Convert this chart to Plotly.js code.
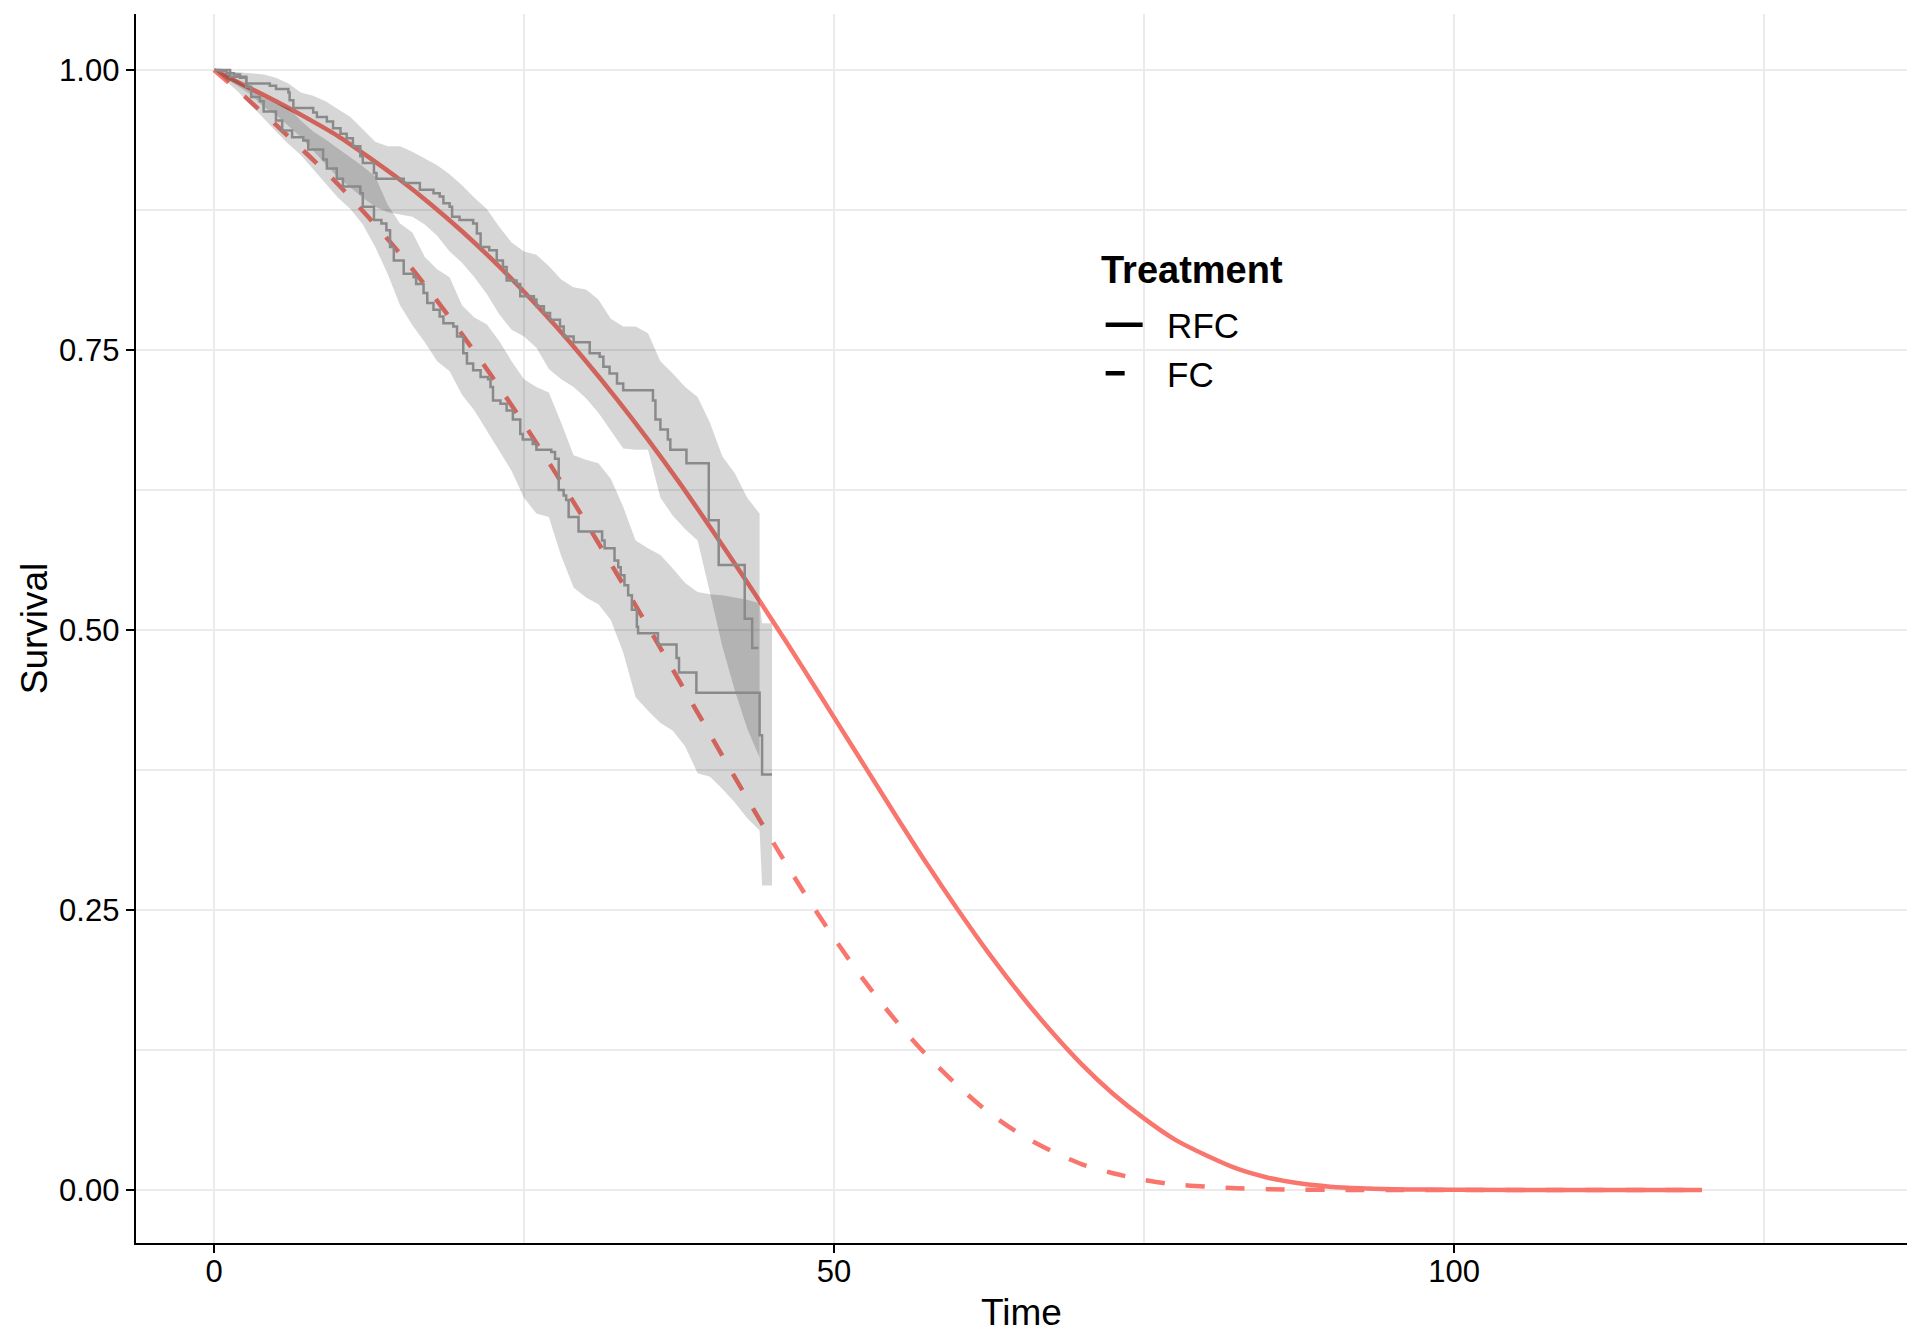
<!DOCTYPE html>
<html>
<head>
<meta charset="utf-8">
<script src="https://cdn.plot.ly/plotly-3.0.1.min.js"></script>
<style>html,body{margin:0;padding:0;background:#fff;}#chart{width:1920px;height:1344px;}</style>
</head>
<body>
<div id="chart"></div>
<script>
// Parametric (fitted) survival curves
const fitTime = [0,2.5,5,7.5,10,12.5,15,17.5,20,22.5,25,27.5,30,32.5,35,37.5,40,42.5,45,47.5,50,52.5,55,57.5,60,62.5,65,67.5,70,72.5,75,77.5,80,82.5,85,87.5,90,92.5,95,97.5,100,110,120];
const rfcFit = [1.000,0.986,0.972,0.957,0.941,0.922,0.902,0.880,0.856,0.830,0.802,0.772,0.740,0.706,0.670,0.632,0.592,0.551,0.509,0.466,0.422,0.378,0.334,0.291,0.250,0.211,0.175,0.142,0.112,0.086,0.064,0.045,0.031,0.019,0.011,0.006,0.003,0.0015,0.0008,0.0004,0.0002,0,0];
const fcFit  = [1.000,0.976,0.951,0.925,0.898,0.868,0.836,0.801,0.764,0.725,0.684,0.641,0.596,0.550,0.503,0.455,0.407,0.359,0.312,0.267,0.225,0.186,0.151,0.120,0.093,0.069,0.050,0.035,0.023,0.015,0.009,0.005,0.003,0.0015,0.0008,0.0004,0.0002,0,0,0,0,0,0];

// Kaplan-Meier step curves
const rfcKmTime = [0,0.5,1.0,1.6,2.1,2.6,4.5,5.0,6.0,6.1,6.4,8.0,8.3,9.1,9.6,10.2,10.7,11.2,11.8,12.0,12.9,13.1,15.3,16.6,17.7,18.2,18.5,19.0,19.2,19.8,20.9,21.2,21.5,22.2,22.8,23.3,23.6,24.4,24.7,25.8,26.0,26.6,27.1,27.9,28.2,29.0,30.3,31.1,31.4,31.9,32.5,33.0,35.4,35.6,36.0,36.6,36.8,38.1,39.9,40.7,42.8,43.4,43.9];
const rfcKmSurv = [1.0,0.999,0.997,0.996,0.993,0.988,0.986,0.983,0.980,0.973,0.966,0.962,0.958,0.954,0.948,0.943,0.939,0.932,0.923,0.917,0.908,0.903,0.899,0.893,0.890,0.887,0.881,0.878,0.869,0.866,0.863,0.854,0.842,0.839,0.830,0.824,0.812,0.809,0.798,0.795,0.789,0.783,0.777,0.771,0.762,0.757,0.747,0.744,0.735,0.729,0.720,0.714,0.705,0.688,0.679,0.670,0.661,0.649,0.598,0.558,0.510,0.484,0.484];
const fcKmTime = [0,1.3,2.6,3.0,3.7,4.0,5.0,5.5,6.3,7.2,7.6,8.8,9.1,9.9,10.4,11.8,12.0,12.9,13.5,13.9,14.2,14.5,15.3,16.1,16.3,16.9,17.2,17.7,18.2,18.5,19.3,19.6,20.1,20.4,20.9,21.5,22.1,22.3,22.5,23.1,23.6,24.1,24.7,24.9,25.7,26.0,27.2,27.5,27.8,28.2,28.4,28.6,29.4,31.3,31.5,32.3,32.6,32.8,33.1,33.4,33.7,34.1,34.2,35.8,37.3,37.5,38.9,44.0,44.2,45.0];
const fcKmSurv = [1.0,0.994,0.985,0.976,0.972,0.963,0.955,0.946,0.940,0.937,0.929,0.920,0.912,0.903,0.896,0.890,0.878,0.866,0.863,0.857,0.842,0.830,0.818,0.815,0.809,0.801,0.792,0.786,0.780,0.774,0.771,0.762,0.747,0.738,0.732,0.726,0.724,0.717,0.705,0.702,0.696,0.688,0.675,0.670,0.666,0.661,0.659,0.653,0.625,0.620,0.616,0.601,0.588,0.580,0.573,0.562,0.556,0.549,0.540,0.531,0.518,0.503,0.497,0.487,0.475,0.462,0.444,0.406,0.371,0.371];

// Confidence bands
const rfcBandTime = [0,1,2,3,4,5,6,7,8,9,10,11,12,13,14,15,16,17,18,19,20,21,22,23,24,25,26,27,28,29,30,31,32,33,34,35,36,37,38,39,40,41,42,43,44];
const rfcBandLow  = [1.0,0.992,0.985,0.978,0.967,0.960,0.950,0.940,0.928,0.916,0.904,0.895,0.886,0.878,0.873,0.871,0.869,0.862,0.852,0.838,0.828,0.815,0.800,0.782,0.768,0.762,0.752,0.733,0.724,0.717,0.707,0.694,0.678,0.662,0.661,0.661,0.618,0.602,0.590,0.580,0.533,0.485,0.446,0.412,0.386];
const rfcBandHigh = [1.0,0.999,0.998,0.997,0.996,0.993,0.988,0.980,0.977,0.972,0.965,0.958,0.947,0.936,0.932,0.932,0.927,0.921,0.915,0.907,0.897,0.886,0.876,0.860,0.846,0.838,0.835,0.825,0.813,0.806,0.804,0.795,0.778,0.771,0.771,0.765,0.740,0.729,0.717,0.708,0.685,0.655,0.640,0.618,0.604];
const fcBandTime = [0,1,2,3,4,5,6,7,8,9,10,11,12,13,14,15,16,17,18,19,20,21,22,23,24,25,26,27,28,29,30,31,32,33,34,35,36,37,38,39,40,41,42,43,44,44.2,45];
const fcBandLow  = [1.0,0.990,0.980,0.968,0.957,0.945,0.934,0.924,0.911,0.898,0.886,0.876,0.862,0.842,0.818,0.790,0.772,0.757,0.740,0.731,0.710,0.696,0.678,0.660,0.642,0.618,0.604,0.601,0.566,0.538,0.529,0.523,0.509,0.480,0.440,0.428,0.417,0.410,0.396,0.372,0.369,0.358,0.346,0.332,0.321,0.272,0.272];
const fcBandHigh = [1.0,0.996,0.990,0.982,0.975,0.970,0.966,0.955,0.945,0.938,0.930,0.922,0.914,0.905,0.880,0.863,0.855,0.833,0.822,0.815,0.790,0.779,0.773,0.758,0.740,0.724,0.717,0.712,0.685,0.656,0.652,0.649,0.635,0.610,0.580,0.573,0.567,0.555,0.542,0.534,0.532,0.531,0.529,0.527,0.524,0.506,0.506];

const groupNames = ['RFC','FC'];
const legendTitle = 'Treatment';
const yTicks = [0,0.25,0.5,0.75,1];
const xTicks = [0,50,100];

const red = '#F8766D';
const bandFill = 'rgba(0,0,0,0.161)';
const kmColor = '#8a8a8a';
const dashPat = '19px,21px';
const legendDash = '19px,40px';
const FONT = 'Liberation Sans, Arial, Helvetica, sans-serif';
const GAP = '\u00A0\u00A0';

const traces = [
  {x: fitTime, y: rfcFit, type:'scatter', mode:'lines', line:{color:red, width:4.5, shape:'spline', smoothing:0.8}, showlegend:false, hoverinfo:'skip'},
  {x: fitTime, y: fcFit, type:'scatter', mode:'lines', line:{color:red, width:4.5, dash:dashPat, shape:'spline', smoothing:0.8}, showlegend:false, hoverinfo:'skip'},
  {x: rfcBandTime, y: rfcBandLow, type:'scatter', mode:'lines', line:{width:0, color:'rgba(0,0,0,0)'}, showlegend:false, hoverinfo:'skip'},
  {x: rfcBandTime, y: rfcBandHigh, type:'scatter', mode:'lines', line:{width:0, color:'rgba(0,0,0,0)'}, fill:'tonexty', fillcolor:bandFill, showlegend:false, hoverinfo:'skip'},
  {x: fcBandTime, y: fcBandLow, type:'scatter', mode:'lines', line:{width:0, color:'rgba(0,0,0,0)'}, showlegend:false, hoverinfo:'skip'},
  {x: fcBandTime, y: fcBandHigh, type:'scatter', mode:'lines', line:{width:0, color:'rgba(0,0,0,0)'}, fill:'tonexty', fillcolor:bandFill, showlegend:false, hoverinfo:'skip'},
  {x: rfcKmTime, y: rfcKmSurv, type:'scatter', mode:'lines', line:{color:kmColor, width:2.5, shape:'hv'}, showlegend:false, hoverinfo:'skip'},
  {x: fcKmTime, y: fcKmSurv, type:'scatter', mode:'lines', line:{color:kmColor, width:2.5, shape:'hv'}, showlegend:false, hoverinfo:'skip'},
  {x:[null], y:[null], type:'scatter', mode:'lines', name:GAP + groupNames[0], line:{color:'#000', width:4.5}},
  {x:[null], y:[null], type:'scatter', mode:'lines', name:GAP + groupNames[1], line:{color:'#000', width:4.5, dash:legendDash}}
];

const axisCommon = {
  showline:true, linecolor:'#000', linewidth:2.4,
  ticks:'outside', ticklen:8, tickwidth:2.4, tickcolor:'#000',
  showgrid:true, gridcolor:'#ebebeb', gridwidth:2.2,
  zeroline:false, automargin:false,
  tickfont:{family:FONT, size:31, color:'#000'}
};

const layout = {
  width:1920, height:1344,
  margin:{l:136, r:13, t:14, b:101},
  paper_bgcolor:'#fff', plot_bgcolor:'#fff',
  font:{family:FONT, color:'#000'},
  xaxis: Object.assign({}, axisCommon, {
    range:[-6.29,136.53], tickmode:'array', tickvals:xTicks,
    ticklabelstandoff:-9,
    minor:{dtick:25, tick0:0, showgrid:true, gridcolor:'#ebebeb', gridwidth:1.1, ticks:''},
    title:{text:'Time', font:{family:FONT, size:37, color:'#000'}, standoff:12}
  }),
  yaxis: Object.assign({}, axisCommon, {
    range:[-0.0473,1.05], tickmode:'array', tickvals:yTicks, tickformat:'.2f',
    minor:{dtick:0.125, tick0:0, showgrid:true, gridcolor:'#ebebeb', gridwidth:1.1, ticks:''},
    title:{text:'Survival', font:{family:FONT, size:37, color:'#000'}, standoff:0}
  }),
  legend:{
    x:0.5447, y:0.771, xanchor:'left', yanchor:'top',
    bgcolor:'rgba(0,0,0,0)', borderwidth:0,
    font:{family:FONT, size:35, color:'#000'},
    traceorder:'normal', itemwidth:37, tracegroupgap:0
  },
  annotations:[{
    text:legendTitle, xref:'paper', yref:'paper', x:0.5438, y:0.7919,
    xanchor:'left', yanchor:'middle', showarrow:false,
    font:{family:FONT, size:38, color:'#000', weight:'bold'}
  }],
  showlegend:true
};

Plotly.newPlot('chart', traces, layout, {staticPlot:true, displayModeBar:false});
</script>
</body>
</html>
